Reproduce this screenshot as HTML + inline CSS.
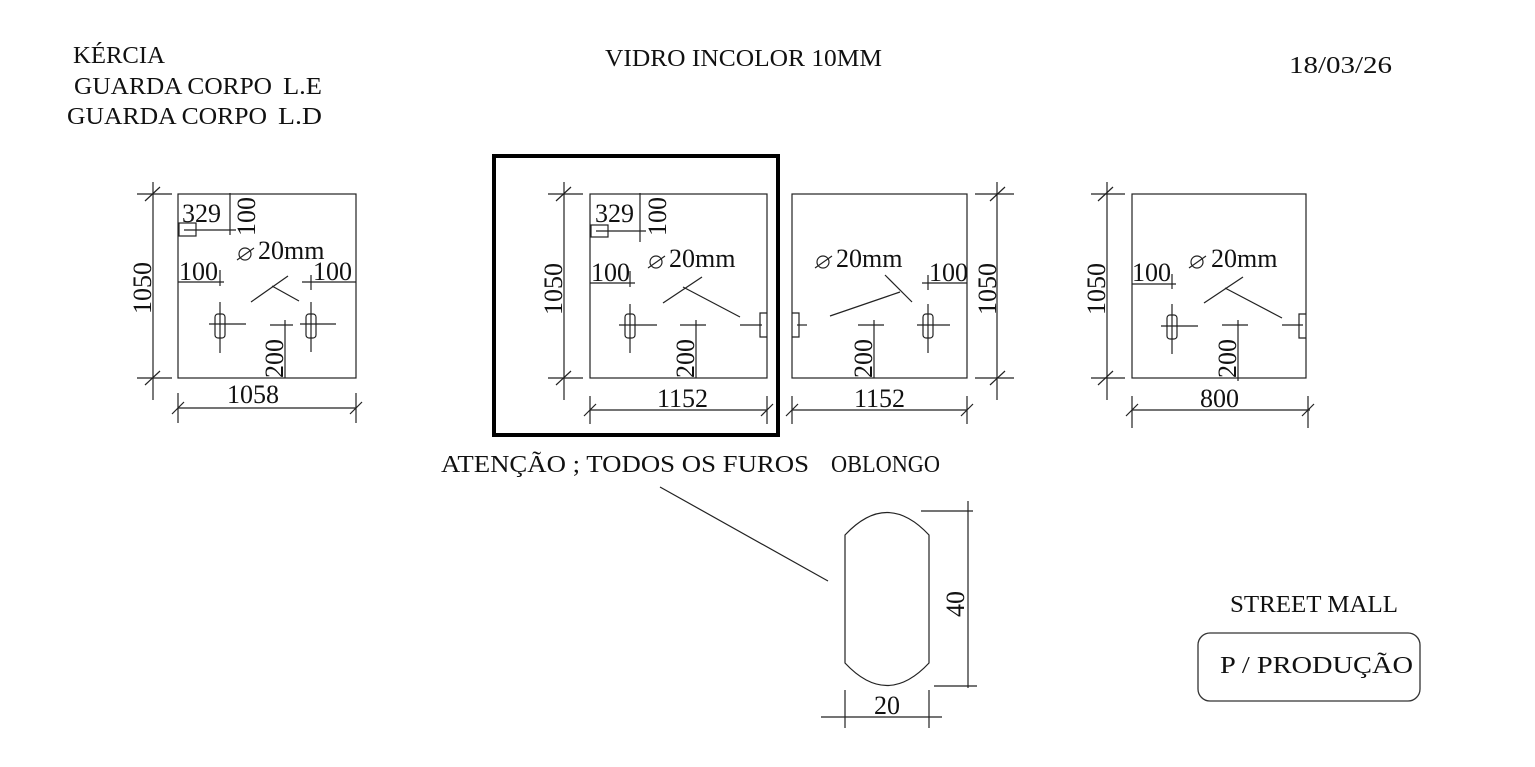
<!DOCTYPE html>
<html><head><meta charset="utf-8"><style>
html,body{margin:0;padding:0;background:#fff;}
svg{display:block}
text{font-family:"Liberation Serif",serif;fill:#111;}
</style></head><body>
<svg width="1535" height="767" viewBox="0 0 1535 767" xmlns="http://www.w3.org/2000/svg">
<g font-size="24">
<text x="73" y="63" textLength="92" lengthAdjust="spacingAndGlyphs">KÉRCIA</text>
<text x="74" y="94" textLength="198" lengthAdjust="spacingAndGlyphs">GUARDA CORPO</text><text x="283" y="94" textLength="39" lengthAdjust="spacingAndGlyphs">L.E</text>
<text x="67" y="124" textLength="200" lengthAdjust="spacingAndGlyphs">GUARDA CORPO</text><text x="278" y="124" textLength="44" lengthAdjust="spacingAndGlyphs">L.D</text>
<text x="605" y="66" textLength="277" lengthAdjust="spacingAndGlyphs">VIDRO INCOLOR 10MM</text>
<text x="1289" y="73" textLength="103" lengthAdjust="spacingAndGlyphs">18/03/26</text>
<text x="441" y="472" textLength="368" lengthAdjust="spacingAndGlyphs">ATENÇÃO ; TODOS OS FUROS</text>
<text x="831" y="472" textLength="109" lengthAdjust="spacingAndGlyphs">OBLONGO</text>
<text x="1230" y="612" textLength="168" lengthAdjust="spacingAndGlyphs">STREET MALL</text>
<text x="1220" y="673" textLength="193" lengthAdjust="spacingAndGlyphs">P / PRODUÇÃO</text>
</g>
<rect x="1198" y="633" width="222" height="68" rx="12" fill="none" stroke="#333" stroke-width="1.3"/>
<rect x="494" y="156" width="284" height="279" fill="none" stroke="#000" stroke-width="4"/>
<g stroke="#222" stroke-width="1.2" fill="none">
<rect x="178" y="194" width="178" height="184"/>
<line x1="153" y1="182" x2="153" y2="400"/>
<line x1="137" y1="194" x2="172" y2="194"/><line x1="145" y1="201" x2="160" y2="187"/>
<line x1="137" y1="378" x2="172" y2="378"/><line x1="145" y1="385" x2="160" y2="371"/>
<line x1="178" y1="408" x2="356" y2="408"/><line x1="178" y1="393" x2="178" y2="423"/><line x1="356" y1="393" x2="356" y2="423"/>
<line x1="172" y1="414" x2="184" y2="402"/><line x1="350" y1="414" x2="362" y2="402"/>
<rect x="179" y="223" width="17" height="13"/>
<line x1="184" y1="230" x2="236" y2="230"/><line x1="230" y1="193" x2="230" y2="235"/>
<line x1="178" y1="282" x2="224" y2="282"/><line x1="220" y1="270" x2="220" y2="286"/>
<line x1="302" y1="282" x2="356" y2="282"/><line x1="311" y1="275" x2="311" y2="290"/>
<rect x="215" y="314" width="10" height="24" rx="3"/><line x1="209" y1="324" x2="246" y2="324"/><line x1="220" y1="302" x2="220" y2="353"/>
<rect x="306" y="314" width="10" height="24" rx="3"/><line x1="300" y1="324" x2="336" y2="324"/><line x1="311" y1="302" x2="311" y2="352"/>
<line x1="251" y1="302" x2="288" y2="276"/><line x1="272" y1="286" x2="299" y2="301"/>
<line x1="285" y1="320" x2="285" y2="378"/><line x1="270" y1="325" x2="293" y2="325"/>
<line x1="237" y1="260" x2="254" y2="248"/><circle cx="245" cy="254" r="6"/>
<rect x="590" y="194" width="177" height="184"/>
<line x1="564" y1="182" x2="564" y2="400"/>
<line x1="548" y1="194" x2="583" y2="194"/><line x1="556" y1="201" x2="571" y2="187"/>
<line x1="548" y1="378" x2="583" y2="378"/><line x1="556" y1="385" x2="571" y2="371"/>
<line x1="590" y1="410" x2="767" y2="410"/><line x1="590" y1="396" x2="590" y2="424"/><line x1="767" y1="396" x2="767" y2="424"/>
<line x1="584" y1="416" x2="596" y2="404"/><line x1="761" y1="416" x2="773" y2="404"/>
<rect x="591" y="225" width="17" height="12"/>
<line x1="596" y1="231" x2="646" y2="231"/><line x1="640" y1="193" x2="640" y2="242"/>
<line x1="590" y1="283" x2="635" y2="283"/><line x1="630" y1="271" x2="630" y2="287"/>
<rect x="625" y="314" width="10" height="24" rx="3"/><line x1="619" y1="325" x2="657" y2="325"/><line x1="630" y1="304" x2="630" y2="353"/>
<line x1="663" y1="303" x2="702" y2="277"/><line x1="683" y1="287" x2="740" y2="317"/>
<path d="M767 313 h-7 v24 h7"/><line x1="740" y1="325" x2="762" y2="325"/>
<line x1="696" y1="320" x2="696" y2="378"/><line x1="680" y1="325" x2="706" y2="325"/>
<line x1="648" y1="268" x2="665" y2="256"/><circle cx="656" cy="262" r="6"/>
<rect x="792" y="194" width="175" height="184"/>
<line x1="997" y1="182" x2="997" y2="400"/>
<line x1="975" y1="194" x2="1014" y2="194"/><line x1="990" y1="201" x2="1005" y2="187"/>
<line x1="975" y1="378" x2="1014" y2="378"/><line x1="990" y1="385" x2="1005" y2="371"/>
<line x1="792" y1="410" x2="967" y2="410"/><line x1="792" y1="396" x2="792" y2="424"/><line x1="967" y1="396" x2="967" y2="424"/>
<line x1="786" y1="416" x2="798" y2="404"/><line x1="961" y1="416" x2="973" y2="404"/>
<path d="M792 313 h7 v24 h-7"/><line x1="797" y1="325" x2="807" y2="325"/>
<line x1="922" y1="283" x2="967" y2="283"/><line x1="928" y1="275" x2="928" y2="290"/>
<rect x="923" y="314" width="10" height="24" rx="3"/><line x1="917" y1="325" x2="950" y2="325"/><line x1="928" y1="304" x2="928" y2="353"/>
<line x1="830" y1="316" x2="900" y2="292"/><line x1="885" y1="275" x2="912" y2="302"/>
<line x1="874" y1="320" x2="874" y2="378"/><line x1="858" y1="325" x2="884" y2="325"/>
<line x1="815" y1="268" x2="832" y2="256"/><circle cx="823" cy="262" r="6"/>
<rect x="1132" y="194" width="174" height="184"/>
<line x1="1107" y1="182" x2="1107" y2="400"/>
<line x1="1091" y1="194" x2="1125" y2="194"/><line x1="1098" y1="201" x2="1113" y2="187"/>
<line x1="1091" y1="378" x2="1125" y2="378"/><line x1="1098" y1="385" x2="1113" y2="371"/>
<line x1="1132" y1="410" x2="1310" y2="410"/><line x1="1132" y1="396" x2="1132" y2="428"/><line x1="1308" y1="396" x2="1308" y2="428"/>
<line x1="1126" y1="416" x2="1138" y2="404"/><line x1="1302" y1="416" x2="1314" y2="404"/>
<line x1="1132" y1="284" x2="1176" y2="284"/><line x1="1172" y1="274" x2="1172" y2="289"/>
<rect x="1167" y="315" width="10" height="24" rx="3"/><line x1="1161" y1="326" x2="1198" y2="326"/><line x1="1172" y1="304" x2="1172" y2="354"/>
<line x1="1204" y1="303" x2="1243" y2="277"/><line x1="1225" y1="288" x2="1282" y2="318"/>
<path d="M1306 314 h-7 v24 h7"/><line x1="1282" y1="325" x2="1303" y2="325"/>
<line x1="1238" y1="320" x2="1238" y2="381"/><line x1="1222" y1="325" x2="1248" y2="325"/>
<line x1="1189" y1="268" x2="1206" y2="256"/><circle cx="1197" cy="262" r="6"/>
<path d="M845 535 Q887 490 929 535 V663 Q887 708 845 663 Z"/>
<line x1="660" y1="487" x2="828" y2="581"/>
<line x1="968" y1="501" x2="968" y2="688"/>
<line x1="921" y1="511" x2="973" y2="511"/><line x1="934" y1="686" x2="977" y2="686"/>
<line x1="821" y1="717" x2="942" y2="717"/>
<line x1="845" y1="690" x2="845" y2="728"/><line x1="929" y1="690" x2="929" y2="728"/>
</g>
<g font-size="26">
<text x="182" y="222">329</text><text transform="translate(255,236) rotate(-90)">100</text>
<text x="258" y="259">20mm</text>
<text x="179" y="280">100</text><text x="313" y="280">100</text>
<text transform="translate(151,314) rotate(-90)">1050</text>
<text transform="translate(283,378) rotate(-90)">200</text>
<text x="227" y="403">1058</text>

<text x="595" y="222">329</text><text transform="translate(666,236) rotate(-90)">100</text>
<text x="669" y="267">20mm</text>
<text x="591" y="281">100</text>
<text transform="translate(562,315) rotate(-90)">1050</text>
<text transform="translate(694,378) rotate(-90)">200</text>
<text x="657" y="407">1152</text>

<text x="836" y="267">20mm</text>
<text x="929" y="281">100</text>
<text transform="translate(996,315) rotate(-90)">1050</text>
<text transform="translate(872,378) rotate(-90)">200</text>
<text x="854" y="407">1152</text>

<text x="1211" y="267">20mm</text>
<text x="1132" y="281">100</text>
<text transform="translate(1105,315) rotate(-90)">1050</text>
<text transform="translate(1236,378) rotate(-90)">200</text>
<text x="1200" y="407">800</text>

<text transform="translate(964,617) rotate(-90)">40</text>
<text x="874" y="714">20</text>
</g>
</svg>
</body></html>
